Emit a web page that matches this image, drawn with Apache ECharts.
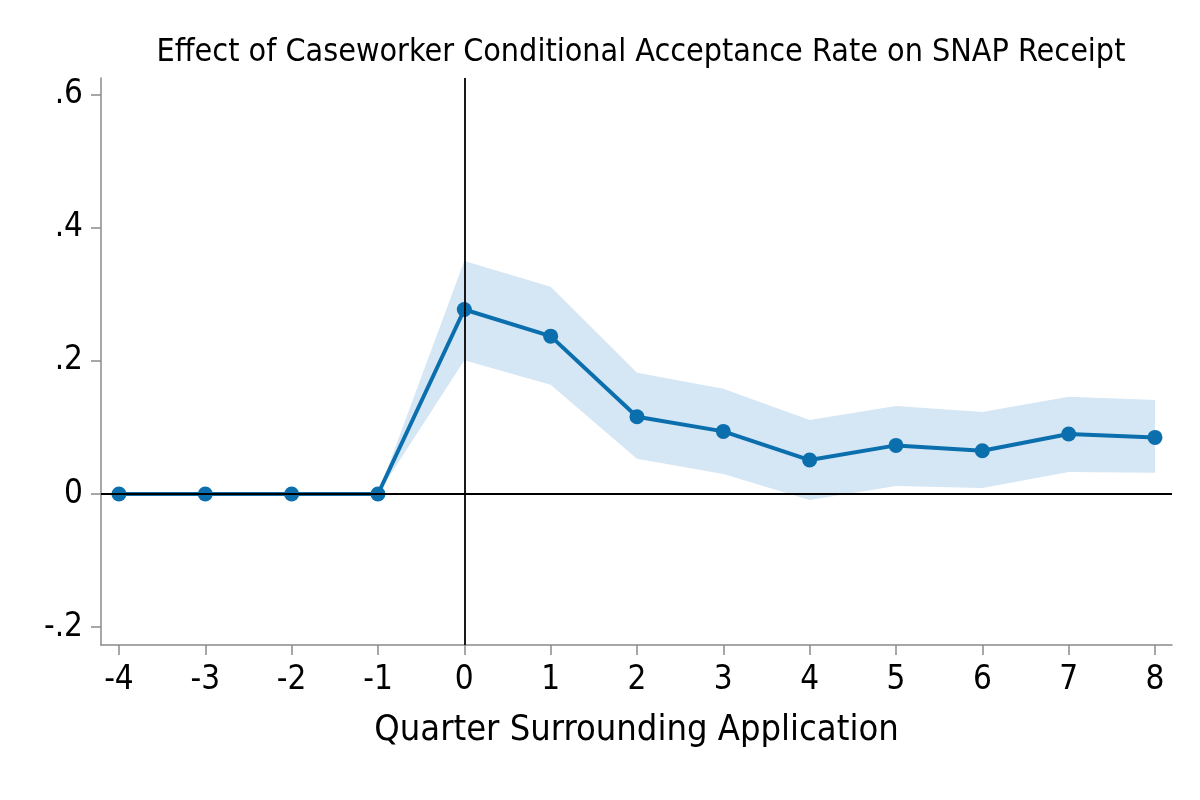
<!DOCTYPE html>
<html>
<head>
<meta charset="utf-8">
<script src="https://cdn.jsdelivr.net/npm/echarts@6/dist/echarts.min.js"></script>
<style>
html,body{margin:0;padding:0;background:#fff;}
#chart{width:1200px;height:800px;}
</style>
</head>
<body>
<div id="chart"></div>
<script>
var quarters = [-4, -3, -2, -1, 0, 1, 2, 3, 4, 5, 6, 7, 8];
var estimates = [0, 0, 0, 0, 0.277, 0.237, 0.116, 0.094, 0.051, 0.073, 0.065, 0.090, 0.085];
var bandQuarters = [-1, 0, 1, 2, 3, 4, 5, 6, 7, 8];
var ciLower = [0, 0.201, 0.164, 0.053, 0.030, -0.009, 0.012, 0.009, 0.033, 0.032];
var ciUpper = [0, 0.350, 0.311, 0.182, 0.158, 0.111, 0.132, 0.123, 0.146, 0.141];
var xTicks = [-4, -3, -2, -1, 0, 1, 2, 3, 4, 5, 6, 7, 8];
var yTicks = [-0.2, 0, 0.2, 0.4, 0.6];
var yTickLabels = ['-.2', '0', '.2', '.4', '.6'];

var FONT = "'DejaVu Sans Condensed', 'Liberation Sans Narrow', sans-serif";
var BLUE = '#0b6fae';
var BAND = '#d5e6f4';

var lineData = quarters.map(function (q, i) { return [q, estimates[i]]; });
var bandData = bandQuarters.map(function (q, i) { return [q, ciLower[i], ciUpper[i]]; });

function renderBand(params, api) {
  if (params.dataIndex !== 0) return null;
  var pts = [];
  var i;
  for (i = 0; i < bandData.length; i++) {
    pts.push(api.coord([bandData[i][0], bandData[i][2]]));
  }
  for (i = bandData.length - 1; i >= 0; i--) {
    pts.push(api.coord([bandData[i][0], bandData[i][1]]));
  }
  return {
    type: 'polygon',
    shape: { points: pts },
    style: { fill: BAND, stroke: null },
    silent: true
  };
}

var chart = echarts.init(document.getElementById('chart'));
chart.setOption({
  animation: false,
  backgroundColor: '#fff',
  title: {
    text: 'Effect of Caseworker Conditional Acceptance Rate on SNAP Receipt',
    left: 636,
    top: 32,
    textAlign: 'center',
    textStyle: { fontFamily: FONT, fontSize: 32, fontWeight: 'normal', color: '#000' }
  },
  grid: { left: 101, right: 28, top: 78, bottom: 155, containLabel: false },
  xAxis: {
    type: 'value',
    min: -4.208,
    max: 8.197,
    name: 'Quarter Surrounding Application',
    nameLocation: 'middle',
    nameGap: 68,
    nameTextStyle: { fontFamily: FONT, fontSize: 36, color: '#000' },
    axisLine: { show: true, onZero: false, lineStyle: { color: '#8a8a8a', width: 1.5 } },
    axisTick: { show: true, length: 10, lineStyle: { color: '#8a8a8a', width: 1.5 }, customValues: xTicks },
    axisLabel: {
      fontFamily: FONT, fontSize: 33, color: '#000', margin: 19,
      customValues: xTicks,
      formatter: function (v) { return String(v); }
    },
    splitLine: { show: false }
  },
  yAxis: {
    type: 'value',
    min: -0.2267,
    max: 0.6246,
    axisLine: { show: true, onZero: false, lineStyle: { color: '#8a8a8a', width: 1.5 } },
    axisTick: { show: true, length: 10, lineStyle: { color: '#8a8a8a', width: 1.5 }, customValues: yTicks },
    axisLabel: {
      fontFamily: FONT, fontSize: 33, color: '#000', margin: 18,
      customValues: yTicks,
      formatter: function (v) {
        for (var i = 0; i < yTicks.length; i++) {
          if (Math.abs(yTicks[i] - v) < 1e-6) return yTickLabels[i];
        }
        return '';
      }
    },
    splitLine: { show: false }
  },
  series: [
    {
      name: 'ci',
      type: 'custom',
      data: bandData,
      renderItem: renderBand,
      encode: { x: 0, y: [1, 2] },
      silent: true,
      z: 1
    },
    {
      name: 'refs',
      type: 'line',
      data: [],
      z: 2,
      markLine: {
        silent: true,
        symbol: 'none',
        label: { show: false },
        lineStyle: { color: '#000', width: 1.8, type: 'solid' },
        data: [
          { yAxis: 0 },
          { xAxis: 0 }
        ]
      }
    },
    {
      name: 'estimate',
      type: 'line',
      data: lineData,
      symbol: 'circle',
      symbolSize: 15,
      showAllSymbol: true,
      lineStyle: { color: BLUE, width: 4 },
      itemStyle: { color: BLUE },
      z: 3
    }
  ]
});
</script>
</body>
</html>
